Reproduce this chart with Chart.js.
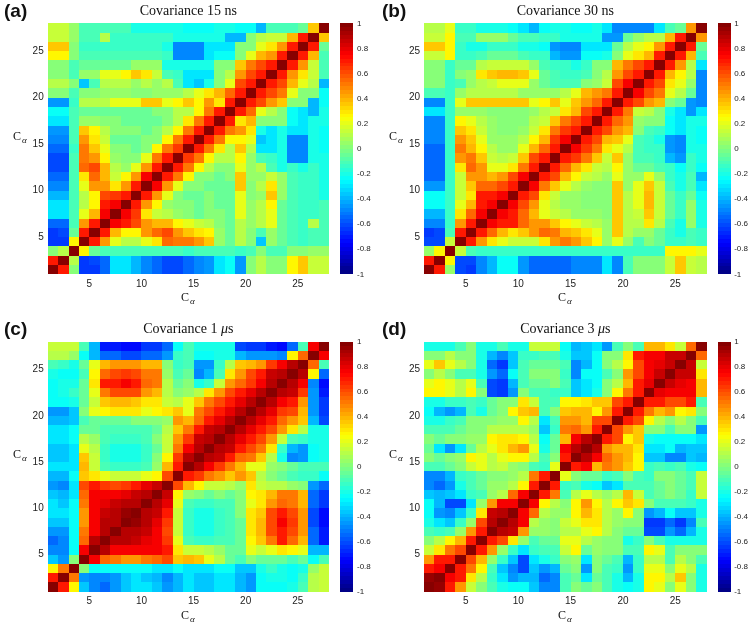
<!DOCTYPE html>
<html>
<head>
<meta charset="utf-8">
<script src="https://cdn.jsdelivr.net/npm/chart.js@4.4.0/dist/chart.umd.min.js"></script>
<style>
  body { margin: 0; background: #fff; width: 750px; height: 626px; overflow: hidden; position: relative; }
  canvas { position: absolute; }
  .title { position: absolute; font: 14px "Liberation Serif", serif; line-height: 14px; text-align: center; color: #111; white-space: nowrap; }
  .tag { position: absolute; font: bold 19px "Liberation Sans", Arial, sans-serif; line-height: 22px; color: #111; }
  .ca { position: absolute; font: 12px "Liberation Serif", serif; line-height: 14px; color: #111; white-space: nowrap; }
  .ca span { font-size: 9px; font-style: italic; position: relative; top: 3px; margin-left: 1px; }
</style>
</head>
<body>
<canvas id="covA" width="375" height="310" style="left:0px;top:0px"></canvas>
<canvas id="covB" width="375" height="310" style="left:376px;top:0px"></canvas>
<canvas id="covC" width="375" height="310" style="left:0px;top:318px"></canvas>
<canvas id="covD" width="375" height="310" style="left:376px;top:318px"></canvas>

<div class="tag" style="left:4px;top:0px">(a)</div>
<div class="tag" style="left:382px;top:0px">(b)</div>
<div class="tag" style="left:4px;top:318px">(c)</div>
<div class="tag" style="left:382px;top:318px">(d)</div>

<div class="title" style="left:47.7px;width:281.3px;top:3.5px">Covariance 15 ns</div>
<div class="title" style="left:424px;width:282.7px;top:3.5px">Covariance 30 ns</div>
<div class="title" style="left:47.7px;width:281.3px;top:322px">Covariance 1 <i>μ</i>s</div>
<div class="title" style="left:424px;width:282.7px;top:322px">Covariance 3 <i>μ</i>s</div>

<div class="ca" style="left:13px;top:129px">C<span>α</span></div>
<div class="ca" style="left:389px;top:129px">C<span>α</span></div>
<div class="ca" style="left:13px;top:447px">C<span>α</span></div>
<div class="ca" style="left:389px;top:447px">C<span>α</span></div>
<div class="ca" style="left:181px;top:290px">C<span>α</span></div>
<div class="ca" style="left:558px;top:290px">C<span>α</span></div>
<div class="ca" style="left:181px;top:608px">C<span>α</span></div>
<div class="ca" style="left:558px;top:608px">C<span>α</span></div>

<script>
// residue axis ticks and colour bar ticks
const axisTicks = [5, 10, 15, 20, 25];
const colorTicks = [-1, -0.8, -0.6, -0.4, -0.2, 0, 0.2, 0.4, 0.6, 0.8, 1];

// covariance matrices, lower triangle, row k = residue k (bottom to top), columns 1..k
const cov15ns = [
  [1],
  [.7,1],
  [0,.1,1],
  [-.65,-.65,.25,1],
  [-.65,-.6,-.05,.7,1],
  [-.55,-.55,-.1,.45,.7,1],
  [-.3,-.3,-.1,.2,.4,.75,1],
  [-.3,-.3,-.1,.1,.25,.7,.75,1],
  [-.4,-.4,-.1,.1,.25,.6,.65,.7,1],
  [-.5,-.5,-.1,.2,.45,.45,.3,.45,.7,1],
  [-.55,-.55,-.1,.3,.55,.4,.15,.25,.45,.75,1],
  [-.6,-.6,-.1,.55,.6,.4,.1,.05,.2,.45,.7,1],
  [-.6,-.6,-.1,.5,.45,.25,.05,0,0,.2,.5,.7,1],
  [-.55,-.55,-.15,.5,.35,.2,0,0,-.05,0,.25,.5,.65,1],
  [-.5,-.5,-.1,.45,.3,.15,-.05,-.05,-.05,0,0,.25,.5,.7,1],
  [-.45,-.45,-.1,.35,.25,.1,0,0,0,-.05,0,.1,.25,.5,.7,1],
  [-.3,-.3,-.1,.05,.05,0,0,-.05,-.05,-.05,-.05,0,.1,.3,.5,.7,1],
  [-.25,-.25,-.1,-.05,-.05,-.05,-.05,-.05,-.05,-.05,0,0,.1,.1,.25,.5,.7,1],
  [-.45,-.45,-.15,.1,.1,.1,.2,.2,.2,.35,.35,.2,.25,.35,.25,.45,.3,.7,1],
  [0,0,-.1,0,0,.05,.05,.05,0,0,.05,.05,.05,.1,.2,.3,.4,.55,.7,1],
  [.1,.1,0,-.35,-.1,.1,.1,.1,.05,.1,.05,.1,-.1,-.3,-.35,-.2,0,.2,.6,.7,1],
  [0,0,-.1,.05,.05,.2,.2,.25,.35,.3,.15,-.1,-.15,-.3,-.3,-.3,0,.1,.45,.6,.7,1],
  [0,0,-.1,-.05,-.05,-.05,-.05,-.05,.05,.05,.05,-.2,-.2,-.2,-.2,-.2,0,0,.35,.5,.6,.7,1],
  [.25,.25,0,-.1,-.1,-.1,-.1,-.1,-.1,-.1,-.1,-.15,-.5,-.5,-.5,-.3,-.25,-.25,0,.2,.4,.45,.7,1],
  [.35,.35,0,-.15,-.15,-.15,-.15,-.15,-.15,-.15,-.15,-.2,-.5,-.5,-.5,-.3,-.3,-.3,0,0,.2,.3,.45,.7,1],
  [.15,.15,.05,-.1,-.1,.1,-.15,-.15,-.15,-.15,-.15,-.15,-.2,-.2,-.2,-.2,-.2,-.4,-.4,0,.1,.15,.15,.4,.7,1],
  [.15,.15,.05,-.1,-.1,-.1,-.1,-.1,-.2,-.2,-.2,-.2,-.2,-.25,-.25,-.25,-.2,-.2,-.25,-.25,-.4,-.1,-.1,-.1,-.05,.35,1]
];

const cov30ns = [
  [1],
  [.7,1],
  [.05,.25,1],
  [-.6,-.6,.15,1],
  [-.65,-.6,-.1,.7,1],
  [-.5,-.5,-.15,.45,.7,1],
  [-.4,-.4,-.15,.3,.55,.75,1],
  [-.25,-.25,-.15,.2,.4,.7,.75,1],
  [-.25,-.25,-.15,.15,.3,.7,.7,.75,1],
  [-.45,-.45,-.15,.15,.35,.55,.55,.6,.7,1],
  [-.55,-.55,-.15,.15,.45,.45,.4,.45,.6,.75,1],
  [-.55,-.55,-.15,.3,.55,.45,.2,.2,.3,.5,.7,1],
  [-.55,-.55,-.15,.45,.5,.35,.15,.1,.15,.35,.6,.7,1],
  [-.55,-.55,-.15,.5,.4,.25,.1,.05,.05,.2,.4,.55,.7,1],
  [-.5,-.5,-.15,.45,.35,.2,.05,.05,.05,.1,.25,.4,.65,.75,1],
  [-.5,-.5,-.15,.35,.3,.15,.05,0,0,.05,.15,.3,.5,.65,.7,1],
  [-.5,-.5,-.15,.25,.2,.1,.05,0,0,0,.1,.15,.35,.5,.6,.7,1],
  [-.3,-.3,-.15,.05,.05,.05,0,0,0,0,.05,.1,.15,.3,.4,.6,.7,1],
  [-.5,-.5,-.15,.2,.35,.35,.35,.35,.35,.35,.2,.25,.35,.2,.35,.45,.55,.7,1],
  [-.1,-.1,-.15,.05,.1,.1,.1,.1,.1,.05,.05,.05,.05,.1,.2,.4,.45,.5,.7,1],
  [0,0,-.15,-.1,.05,.1,.15,.2,.2,.2,.05,-.05,-.1,-.1,-.1,0,.05,.15,.6,.75,1],
  [0,0,-.15,0,.05,.3,.35,.4,.4,.35,.2,-.05,-.1,-.15,-.15,-.1,0,.1,.45,.6,.7,1],
  [0,0,-.15,-.05,-.05,.1,.15,.15,.15,.15,.05,-.1,-.15,-.15,-.2,-.15,0,0,.4,.5,.6,.7,1],
  [.15,.15,.25,-.15,-.15,-.1,-.05,-.05,-.05,-.1,-.15,-.15,-.4,-.45,-.45,-.25,-.25,-.2,0,.2,.3,.4,.7,1],
  [.35,.35,.25,-.15,-.2,-.2,-.15,-.15,-.15,-.2,-.2,-.25,-.45,-.5,-.5,-.3,-.3,-.3,-.05,.1,.2,.25,.45,.7,1],
  [.15,.15,.25,-.1,-.1,.05,.05,.05,-.05,-.1,-.1,-.15,-.15,-.2,-.2,-.2,-.2,-.45,-.45,-.05,.05,.1,.1,.4,.7,1],
  [.1,.1,.2,-.15,-.15,-.2,-.2,-.2,-.25,-.3,-.4,-.25,-.2,-.2,-.25,-.25,-.2,-.3,-.5,-.5,-.5,-.5,-.3,-.1,-.05,.45,1]
];

const cov1us = [
  [1],
  [.7,1],
  [.25,.5,1],
  [-.35,-.45,0,1],
  [-.5,-.5,-.25,.75,1],
  [-.55,-.5,-.25,.55,.9,1],
  [-.45,-.45,-.25,.5,.75,.9,1],
  [-.35,-.35,-.25,.45,.75,.9,.9,1],
  [-.3,-.3,-.25,.45,.75,.85,.9,.95,1],
  [-.3,-.35,-.25,.5,.75,.8,.85,.9,.9,1],
  [-.35,-.4,-.3,.55,.75,.75,.75,.8,.85,.9,1],
  [-.45,-.5,-.3,.6,.7,.65,.6,.65,.7,.8,.85,1],
  [-.4,-.4,-.25,.35,.3,.2,.15,.15,.15,.2,.25,.6,1],
  [-.3,-.3,-.3,.4,.15,-.1,-.15,-.15,-.15,-.1,.05,.4,.7,1],
  [-.35,-.35,-.3,.35,.15,-.15,-.2,-.2,-.2,-.15,0,.25,.65,.9,1],
  [-.35,-.35,-.3,.2,.1,-.15,-.2,-.2,-.2,-.15,-.05,.15,.5,.75,.9,1],
  [-.3,-.3,-.25,.1,.05,-.1,-.15,-.15,-.15,-.1,0,.15,.45,.65,.85,.9,1],
  [-.3,-.3,-.25,-.05,-.05,-.1,-.1,-.1,-.1,-.1,-.05,.1,.35,.5,.7,.85,.9,1],
  [-.4,-.4,-.35,-.1,-.05,-.05,-.05,-.05,0,0,0,.05,.45,.4,.55,.7,.8,.9,1],
  [-.45,-.45,-.35,0,.2,.25,.3,.3,.3,.2,.25,.3,.35,.2,.5,.6,.7,.8,.9,1],
  [-.25,-.25,-.2,-.05,.15,.35,.4,.4,.35,.3,.3,.15,.1,.2,.35,.5,.6,.7,.8,.9,1],
  [-.25,-.2,-.15,-.05,.2,.5,.6,.6,.6,.45,.4,.1,0,.05,.1,.3,.45,.6,.7,.8,.9,1],
  [-.25,-.2,-.2,-.05,.3,.7,.7,.75,.7,.55,.5,.1,-.05,0,-.2,-.15,.15,.45,.55,.65,.75,.9,1],
  [-.2,-.25,-.25,-.1,.25,.55,.6,.65,.6,.5,.5,.05,-.1,-.05,-.5,-.4,-.1,.3,.45,.6,.7,.85,.9,1],
  [-.1,-.15,-.2,-.05,.2,.4,.45,.45,.45,.4,.4,0,-.15,-.1,-.45,-.45,-.15,.1,.35,.4,.45,.65,.75,.9,1],
  [.1,.1,.05,-.25,-.4,-.55,-.55,-.6,-.6,-.55,-.55,-.45,-.15,-.1,-.25,-.25,-.2,-.2,-.4,-.45,-.45,-.45,-.5,.25,.55,1],
  [.15,.15,.15,-.1,-.4,-.7,-.7,-.75,-.75,-.65,-.65,-.55,-.25,-.1,-.2,-.2,-.2,-.2,-.6,-.65,-.65,-.7,-.75,-.55,-.1,.75,1]
];

const cov3us = [
  [1],
  [.95,1],
  [.7,.75,1],
  [.45,.7,.7,1],
  [.15,.3,.5,.6,1],
  [0,.1,.25,.4,.7,1],
  [-.1,-.15,-.1,.05,.45,.7,1],
  [-.2,-.3,-.35,-.15,.05,.6,.9,1],
  [-.25,-.45,-.5,-.35,-.15,.3,.85,.9,1],
  [-.25,-.4,-.6,-.6,-.3,.05,.45,.75,.75,1],
  [-.35,-.4,-.35,-.3,-.15,-.1,.05,.1,.55,.75,1],
  [-.5,-.55,-.45,-.2,-.1,-.05,.05,.05,.1,.25,.7,1],
  [-.5,-.5,-.4,-.15,-.1,-.05,0,0,.05,.1,.5,.7,1],
  [-.1,-.1,-.05,0,.15,.2,.1,.15,.05,0,-.1,-.15,.2,1],
  [0,-.05,0,.05,.25,.2,.1,.2,.25,.25,.1,-.1,0,.7,1],
  [-.05,-.3,-.45,-.3,-.05,.1,.2,.3,.4,.45,.2,-.2,-.05,.75,.9,1],
  [0,-.05,0,0,.05,.05,.25,.3,.3,.25,.1,-.25,-.05,.4,.75,.9,1],
  [-.1,-.1,-.1,-.05,0,0,.1,.1,.1,.1,.05,-.35,-.15,.5,.55,.45,.7,1],
  [-.2,-.2,-.15,-.1,0,0,0,.05,.05,.25,.1,-.3,-.1,.45,.45,.4,.6,.6,1],
  [-.25,-.4,-.45,-.4,-.1,-.2,-.05,0,.25,.35,.4,-.1,0,.35,.4,.4,.25,.45,.7,1],
  [-.2,-.2,-.15,-.15,-.1,-.15,-.05,0,0,.3,.15,-.1,-.1,.25,.25,.3,.35,.35,.6,.7,1],
  [.25,.25,.2,.1,.25,0,-.6,-.65,-.45,0,-.1,-.1,-.15,-.15,-.35,-.3,-.2,0,.25,.5,.7,1],
  [.2,.25,.2,.1,.2,-.1,-.6,-.65,-.4,-.1,-.05,-.05,0,-.1,-.35,-.3,-.25,0,.1,.4,.7,.8,1],
  [0,.1,0,-.1,-.1,-.2,-.45,-.55,-.25,-.1,0,0,0,-.15,-.5,-.25,-.25,-.1,0,.45,.6,.75,.85,1],
  [.2,.35,.2,.1,0,-.2,-.55,-.65,-.35,-.1,-.05,-.05,-.05,-.1,-.5,-.4,-.25,0,.1,.25,.6,.75,.8,.85,1],
  [0,0,.1,0,0,-.2,-.4,-.5,-.35,-.15,-.15,-.1,-.1,-.2,-.35,-.35,-.25,0,0,.3,.7,.75,.75,.85,.85,1],
  [-.2,-.2,-.2,-.1,0,-.2,-.2,-.1,-.2,-.2,.15,.15,.15,-.25,-.4,-.35,-.3,-.45,-.1,0,-.1,.4,.4,.3,.15,.55,1]
];

const Y_W = 30, X_H = 30, CB_W = 44;

// MATLAB jet, 64 levels
function jet(v) {
  const t = (Math.max(-1, Math.min(1, v)) + 1) / 2;
  const k = Math.min(63, Math.floor(t * 64));
  const s = (k + 0.5) / 64;
  const f = d => Math.round(255 * Math.min(1, Math.max(0, 1.5 - Math.abs(4 * s - d))));
  return `rgb(${f(3)},${f(2)},${f(1)})`;
}

// pcolor-style cells: cell (x, y) covers [x, x+1] x [y, y+1]
function cellsFrom(lower) {
  const cells = [];
  for (let r = 0; r < lower.length; r++) {
    for (let c = 0; c < lower.length; c++) {
      cells.push({x: c + 1, y: r + 1, v: c <= r ? lower[r][c] : lower[c][r]});
    }
  }
  return cells;
}

const heatmap = {
  id: 'heatmap',
  beforeDatasetsDraw(chart, args, opts) {
    const {ctx, chartArea} = chart;
    const {x, y, cb} = chart.scales;
    ctx.save();
    for (const c of chart.data.datasets[0].data) {
      const x0 = Math.round(x.getPixelForValue(c.x)), x1 = Math.round(x.getPixelForValue(c.x + 1));
      const y0 = Math.round(y.getPixelForValue(c.y + 1)), y1 = Math.round(y.getPixelForValue(c.y));
      ctx.fillStyle = jet(c.v);
      ctx.fillRect(x0, y0, x1 - x0, y1 - y0);
    }
    const left = Math.round(chartArea.right + opts.gap);
    for (let k = 0; k < 64; k++) {
      const v0 = -1 + k / 32, v1 = v0 + 1 / 32;
      const top = Math.round(cb.getPixelForValue(v1)), bot = Math.round(cb.getPixelForValue(v0));
      ctx.fillStyle = jet(v0 + 1 / 64);
      ctx.fillRect(left, top, opts.width, bot - top);
    }
    ctx.restore();
  }
};

const tickFont = {family: '"Liberation Sans", Arial, sans-serif', size: 10};

function makeChart(id, matrix, area, cbPad) {
  const canvas = document.getElementById(id);
  const W = canvas.width, H = canvas.height;
  const fixedTicks = list => s => { s.ticks = list.map(value => ({value})); };
  const fitTo = (key, size) => s => { s[key] = size; s.paddingTop = 0; s.paddingBottom = 0; s.paddingLeft = 0; s.paddingRight = 0; };
  const hidden = {grid: {display: false, drawTicks: false}, border: {display: false}};
  return new Chart(canvas, {
    type: 'scatter',
    data: {datasets: [{data: cellsFrom(matrix), pointRadius: 0}]},
    options: {
      responsive: false,
      animation: false,
      events: [],
      layout: {padding: {left: area.L - Y_W, right: W - area.R - CB_W, top: area.T, bottom: H - area.B - X_H}},
      plugins: {legend: {display: false}, tooltip: {enabled: false}, heatmap: {gap: 11, width: 13}},
      scales: {
        x: {
          type: 'linear', min: 1, max: 28, ...hidden,
          afterBuildTicks: fixedTicks(axisTicks),
          afterFit: fitTo('height', X_H),
          ticks: {padding: 4, font: tickFont, color: '#222', autoSkip: false, maxRotation: 0}
        },
        y: {
          type: 'linear', min: 1, max: 28, ...hidden,
          afterBuildTicks: fixedTicks(axisTicks),
          afterFit: fitTo('width', Y_W),
          ticks: {padding: 4, font: tickFont, color: '#222', autoSkip: false}
        },
        cb: {
          type: 'linear', axis: 'y', position: 'right', min: -1, max: 1, ...hidden,
          afterBuildTicks: fixedTicks(colorTicks),
          afterFit: fitTo('width', CB_W),
          ticks: {padding: cbPad, font: {family: tickFont.family, size: 8}, color: '#222', autoSkip: false,
                  callback: v => String(Math.round(v * 10) / 10)}
        }
      }
    },
    plugins: [heatmap]
  });
}

makeChart('covA', cov15ns, {L: 47.7, R: 329, T: 23.3, B: 274.3}, 28);
makeChart('covB', cov30ns, {L: 48, R: 330.7, T: 23.3, B: 274.3}, 27.5);
makeChart('covC', cov1us, {L: 47.7, R: 329, T: 23.7, B: 273.7}, 28);
makeChart('covD', cov3us, {L: 48, R: 330.7, T: 23.7, B: 273.7}, 27.5);
</script>
</body>
</html>
